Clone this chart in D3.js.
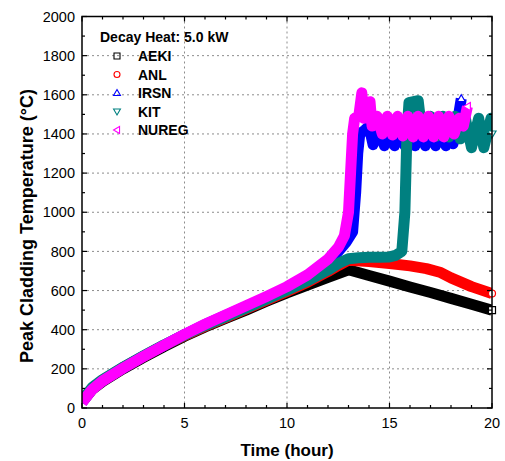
<!DOCTYPE html>
<html>
<head>
<meta charset="utf-8">
<script src="https://cdn.jsdelivr.net/npm/d3@7"></script>
<style>
  body { margin: 0; background: #fff; }
  text { font-family: "Liberation Sans", Arial, sans-serif; }
</style>
</head>
<body>
<svg id="chart" width="505" height="461"></svg>
<script>
// data (time in hours, peak cladding temperature in degC)
const aekiTime = [0,0.5,1,2,3,4,5,6,7,8,9,10,11,12,13,14,15,16,17,18,19,20];
const aekiTemp = [30,95,135,200,258,314,366,414,458,500,545,588,628,668,706,677,648,618,590,560,530,500];

const anlTime = [0,0.5,1,2,3,4,5,6,7,8,9,10,11,12,12.5,13,14,15,16,16.8,17.5,18,19,20];
const anlTemp = [38,102,142,206,264,320,370,418,462,506,551,596,643,698,728,755,748,738,726,712,692,665,620,585];

const irsnTime = [0,0.5,1,2,3,4,5,6,7,8,9,10,11,12,12.5,12.9,13.2,13.35,13.45,13.55,13.8,14.0,14.2,14.5,14.75,15.0,15.25,15.5,15.75,16.0,16.25,16.5,16.75,17.0,17.25,17.5,17.75,18.0,18.1,18.3,18.5];
const irsnTemp = [30,98,140,205,264,320,375,426,472,518,565,612,668,745,800,850,900,1100,1300,1400,1420,1440,1345,1445,1340,1440,1340,1440,1340,1440,1340,1440,1340,1440,1340,1440,1340,1440,1350,1450,1580];

const kitTime = [0,0.5,1,2,3,4,5,6,7,8,9,10,11,12,12.5,13,13.5,14,14.5,15,15.3,15.6,15.75,15.8,15.85,15.95,16.4,16.5,16.7,17.0,17.3,17.6,17.9,18.2,18.45,18.7,19.0,19.35,19.6,19.95,20];
const kitTemp = [40,105,145,208,266,322,373,421,465,510,556,602,650,705,738,762,768,770,770,772,780,800,1000,1200,1400,1560,1570,1480,1400,1490,1390,1490,1385,1490,1375,1480,1330,1480,1330,1480,1400];

const nuregTime = [0,0.5,1,2,3,4,5,6,7,8,9,10,11,12,12.5,12.8,13.0,13.1,13.2,13.3,13.5,13.65,13.75,13.9,14.05,14.15,14.4,14.65,14.9,15.15,15.4,15.65,15.9,16.15,16.4,16.65,16.9,17.15,17.4,17.65,17.9,18.15,18.4,18.6,18.8];
const nuregTemp = [28,95,138,203,263,320,376,428,475,522,570,620,680,760,820,880,1000,1200,1400,1480,1490,1610,1480,1500,1565,1440,1490,1400,1490,1395,1490,1390,1490,1385,1490,1385,1490,1385,1490,1385,1490,1400,1480,1440,1540];

const seriesNames = ['AEKI','ANL','IRSN','KIT','NUREG'];
const seriesColors = ['#000000','#ff0000','#0000ff','#008080','#ff00ff'];
const seriesShapes = ['square','circle','up','down','left'];
const xTicks = [0,5,10,15,20];
const yTicks = [0,200,400,600,800,1000,1200,1400,1600,1800,2000];

const series = [
  {t: aekiTime, v: aekiTemp},
  {t: anlTime, v: anlTemp},
  {t: irsnTime, v: irsnTemp},
  {t: kitTime, v: kitTemp},
  {t: nuregTime, v: nuregTemp}
].map((s, i) => ({
  name: seriesNames[i], color: seriesColors[i], shape: seriesShapes[i],
  points: s.t.map((t, j) => [t, s.v[j]])
}));

const pLeft = 82, pRight = 492, pTop = 16.5, pBottom = 408;
const svg = d3.select('#chart');

const x = d3.scaleLinear().domain([0, 20]).range([pLeft, pRight]);
const y = d3.scaleLinear().domain([0, 2000]).range([pBottom, pTop]);

// grid
const grid = svg.append('g')
  .attr('stroke', '#8c8c8c').attr('stroke-width', 1).attr('stroke-dasharray', '2,3');
grid.selectAll('.gx').data(xTicks.slice(1, -1)).enter().append('line')
  .attr('x1', d => x(d)).attr('x2', d => x(d)).attr('y1', pTop).attr('y2', pBottom);
grid.selectAll('.gy').data(yTicks.slice(1, -1)).enter().append('line')
  .attr('x1', pLeft).attr('x2', pRight).attr('y1', d => y(d)).attr('y2', d => y(d));

// clip
svg.append('clipPath').attr('id', 'clip')
  .append('rect').attr('x', pLeft).attr('y', pTop).attr('width', pRight - pLeft).attr('height', pBottom - pTop);

const line = d3.line().x(d => x(d[0])).y(d => y(d[1]));

const plot = svg.append('g').attr('clip-path', 'url(#clip)');
series.forEach(s => {
  plot.append('path')
    .attr('d', line(s.points))
    .attr('fill', 'none')
    .attr('stroke', s.color)
    .attr('stroke-width', 11)
    .attr('stroke-linejoin', 'round');
});

function symbolPath(shape, r) {
  if (shape === 'square') return `M${-r},${-r}h${2*r}v${2*r}h${-2*r}Z`;
  if (shape === 'circle') return `M${-r},0a${r},${r} 0 1,0 ${2*r},0a${r},${r} 0 1,0 ${-2*r},0Z`;
  const h = r * 1.15;
  if (shape === 'up') return `M0,${-h}L${h},${r*0.85}L${-h},${r*0.85}Z`;
  if (shape === 'down') return `M0,${h}L${h},${-r*0.85}L${-h},${-r*0.85}Z`;
  return `M${-h},0L${r*0.85},${-h}L${r*0.85},${h}Z`;
}

// open end markers
series.forEach(s => {
  const p = s.points[s.points.length - 1];
  svg.append('path')
    .attr('d', symbolPath(s.shape, 3.5))
    .attr('transform', `translate(${x(p[0])},${y(p[1])})`)
    .attr('fill', '#fff').attr('stroke', s.color).attr('stroke-width', 1.2);
});

// ticks on all four sides, pointing inward
const xMinor = d3.range(0, 21, 1);
const yMinor = d3.range(0, 2001, 100);
const tk = svg.append('g').attr('stroke', '#000').attr('stroke-width', 1.2);
xMinor.forEach(v => {
  const len = v % 5 === 0 ? 5 : 3;
  tk.append('line').attr('x1', x(v)).attr('x2', x(v)).attr('y1', pBottom).attr('y2', pBottom - len);
  tk.append('line').attr('x1', x(v)).attr('x2', x(v)).attr('y1', pTop).attr('y2', pTop + len);
});
yMinor.forEach(v => {
  const len = v % 200 === 0 ? 5 : 3;
  tk.append('line').attr('y1', y(v)).attr('y2', y(v)).attr('x1', pLeft).attr('x2', pLeft + len);
  tk.append('line').attr('y1', y(v)).attr('y2', y(v)).attr('x1', pRight).attr('x2', pRight - len);
});

// frame
svg.append('rect')
  .attr('x', pLeft).attr('y', pTop).attr('width', pRight - pLeft).attr('height', pBottom - pTop)
  .attr('fill', 'none').attr('stroke', '#000').attr('stroke-width', 1.5);

// tick labels
svg.selectAll('.xl').data(xTicks).enter().append('text')
  .attr('x', d => x(d)).attr('y', 428)
  .attr('text-anchor', 'middle').attr('font-size', 14.5).text(d => d);
svg.selectAll('.yl').data(yTicks).enter().append('text')
  .attr('x', 75).attr('y', d => y(d)).attr('dy', '0.36em')
  .attr('text-anchor', 'end').attr('font-size', 14.5).text(d => d);

// axis titles
svg.append('text').attr('x', 287).attr('y', 456)
  .attr('text-anchor', 'middle').attr('font-size', 17).attr('font-weight', 'bold')
  .text('Time (hour)');
svg.append('text')
  .attr('transform', `translate(33,${226}) rotate(-90)`)
  .attr('text-anchor', 'middle').attr('font-size', 18).attr('font-weight', 'bold')
  .text('Peak Cladding Temperature (\u00B0C)');

// legend
svg.append('text').attr('x', 100).attr('y', 42)
  .attr('font-size', 14).attr('font-weight', 'bold').text('Decay Heat: 5.0 kW');
series.forEach((s, i) => {
  const cy = 56 + i * 18.5;
  svg.append('path')
    .attr('d', symbolPath(s.shape, 3))
    .attr('transform', `translate(117,${cy})`)
    .attr('fill', 'none').attr('stroke', s.color).attr('stroke-width', 1.1);
  svg.append('text').attr('x', 138).attr('y', cy + 5)
    .attr('font-size', 14).attr('font-weight', 'bold').text(s.name);
});
</script>
</body>
</html>
